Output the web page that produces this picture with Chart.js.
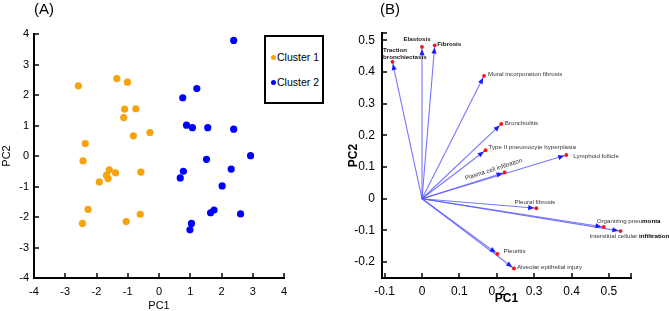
<!DOCTYPE html>
<html><head><meta charset="utf-8">
<script src="https://cdn.jsdelivr.net/npm/chart.js@4.4.1/dist/chart.umd.min.js"></script>
<style>
html,body{margin:0;padding:0;background:#fff;width:669px;height:311px;overflow:hidden;font-family:"Liberation Sans",Arial,sans-serif}
#ca{position:absolute;left:0;top:0}
#cb{position:absolute;left:335px;top:0}
.ptitle{position:absolute;top:0px;font-size:15px;color:#000;line-height:17px}
#legend{position:absolute;left:264px;top:35px;width:56px;height:65px;border:2px solid #000;background:#fff;font-size:10.5px;color:#000}
.li{position:absolute;left:5px;height:12px;line-height:12px;white-space:nowrap}
.dot{display:inline-block;width:5px;height:5px;border-radius:50%;margin-right:1px;vertical-align:1px}
</style></head>
<body>
<canvas id="ca" width="335" height="311"></canvas>
<canvas id="cb" width="334" height="311"></canvas>
<div class="ptitle" style="left:34px">(A)</div>
<div class="ptitle" style="left:380px">(B)</div>
<div id="legend">
  <div class="li" style="top:14px"><span class="dot" style="background:#F7A30F"></span>Cluster 1</div>
  <div class="li" style="top:39px"><span class="dot" style="background:#0000FF"></span>Cluster 2</div>
</div>
<script>
// ---------- DATA ----------
const cluster1X = [-2.58,-1.35,-1.01,-1.10,-0.74,-1.13,-0.82,-0.29,-2.36,-2.43,-1.59,-1.68,-1.63,-1.39,-1.91,-0.58,-2.27,-2.45,-1.05,-0.60];
const cluster1Y = [2.30,2.54,2.42,1.54,1.55,1.26,0.66,0.77,0.41,-0.16,-0.45,-0.63,-0.74,-0.55,-0.85,-0.53,-1.75,-2.21,-2.15,-1.91];
const cluster2X = [2.39,1.21,0.76,0.88,1.07,1.56,2.39,2.93,1.52,2.31,0.78,0.68,2.02,1.76,1.65,2.61,1.04,0.99];
const cluster2Y = [3.79,2.21,1.91,1.01,0.93,0.93,0.88,0.01,-0.11,-0.43,-0.50,-0.72,-0.98,-1.77,-1.86,-1.90,-2.21,-2.42];
const ticksA = [-4,-3,-2,-1,0,1,2,3,4];

const varNames = ['Traction bronchiectasis','Elastosis','Fibrosis','Mural incorporation fibrosis','Bronchiolitis',
  'Type II pneumocyte hyperplasia','Lymphoid follicle','Plasma cell infiltration','Pleural fibrosis',
  'Organizing pneumonia','Interstitial cellular infiltration','Pleuritis','Alveolar epithelial injury'];
const loadPC1 = [-0.079,0.000,0.034,0.166,0.212,0.170,0.386,0.221,0.306,0.486,0.531,0.202,0.246];
const loadPC2 = [0.432,0.479,0.484,0.388,0.236,0.153,0.138,0.083,-0.030,-0.089,-0.102,-0.174,-0.220];
const ticksBX = [-0.1,0,0.1,0.2,0.3,0.4,0.5];
const ticksBXLabels = ['-0.1','0','0.1','0.2','0.3','0.4','0.5'];
const ticksBY = [-0.2,-0.1,0,0.1,0.2,0.3,0.4,0.5];
const ticksBYLabels = ['-0.2','-0.1','0','0.1','0.2','0.3','0.4','0.5'];

// ---------- STYLE ----------
const FONT = '"Liberation Sans", Arial, sans-serif';
const ORANGE = '#F7A30F', BLUE = '#0000FF';
// label placement (pixel offsets from arrow tip), kept apart from data
const labelStyle = {
  'Traction bronchiectasis': {dx:-9.5, dy:-12, align:'left', bold:true, wrap:true, lh:7},
  'Elastosis': {dx:-5, dy:-7.5, align:'center', bold:true},
  'Fibrosis': {dx:2.5, dy:-1, align:'left', bold:true},
  'Mural incorporation fibrosis': {dx:4, dy:-1, align:'left'},
  'Bronchiolitis': {dx:3.5, dy:-0.7, align:'left'},
  'Type II pneumocyte hyperplasia': {dx:3, dy:-3, align:'left'},
  'Lymphoid follicle': {dx:7, dy:1, align:'left'},
  'Plasma cell infiltration': {dx:-11, dy:-3, align:'center', rotate:true},
  'Pleural fibrosis': {dx:-1.5, dy:-6, align:'center'},
  'Organizing pneumonia': {dx:-7, dy:-6, align:'left', boldFrom:15},
  'Interstitial cellular infiltration': {dx:-31, dy:5.5, align:'left', boldFrom:21},
  'Pleuritis': {dx:6, dy:-3, align:'left'},
  'Alveolar epithelial injury': {dx:3, dy:-1, align:'left'}
};

// axis lines + inward tick marks, drawn through the chart's own scales
const axesPlugin = {
  id:'axesInward',
  afterDraw(chart){
    const {ctx, chartArea:ca} = chart;
    const xs = chart.scales.x, ys = chart.scales.y;
    const seg = (a,b,c,d)=>{ctx.beginPath(); ctx.moveTo(a,b); ctx.lineTo(c,d); ctx.stroke();};
    ctx.save();
    ctx.strokeStyle = '#000';
    ctx.lineWidth = 1.5;
    xs.ticks.forEach(t=>{ const p = Math.round(xs.getPixelForValue(t.value)); seg(p, ca.bottom, p, ca.bottom-5); });
    ys.ticks.forEach(t=>{ const p = Math.round(ys.getPixelForValue(t.value)); seg(ca.left, p, ca.left+5, p); });
    ctx.lineWidth = 2;
    ctx.lineCap = 'square';
    seg(Math.round(ca.left), Math.round(ca.top), Math.round(ca.left), Math.round(ca.bottom));
    seg(Math.round(ca.left), Math.round(ca.bottom), Math.round(ca.right), Math.round(ca.bottom));
    ctx.restore();
  }
};

function axisCommon(){
  return {
    grid:{display:false, drawOnChartArea:false, drawTicks:false},
    border:{display:false}
  };
}

// ---------- PANEL A ----------
new Chart(document.getElementById('ca'), {
  type:'scatter',
  data:{datasets:[
    {label:'Cluster 1', data:cluster1X.map((x,i)=>({x, y:cluster1Y[i]})), backgroundColor:ORANGE, pointRadius:3.6, borderWidth:0},
    {label:'Cluster 2', data:cluster2X.map((x,i)=>({x, y:cluster2Y[i]})), backgroundColor:BLUE, pointRadius:3.6, borderWidth:0}
  ]},
  options:{
    responsive:false, animation:false, events:[],
    layout:{padding:{left:0, top:34, right:51, bottom:0}},
    plugins:{legend:{display:false}, tooltip:{enabled:false}},
    scales:{
      x:Object.assign(axisCommon(), {
        type:'linear', min:-4, max:4,
        afterBuildTicks:s=>{s.ticks = ticksA.map(v=>({value:v}));},
        afterFit:s=>{s.height = 33;},
        ticks:{color:'#000', font:{size:11, family:FONT}, padding:7, maxRotation:0, autoSkip:false},
        title:{display:true, text:'PC1', color:'#000', font:{size:11, family:FONT}, padding:{top:0, bottom:-2}}
      }),
      y:Object.assign(axisCommon(), {
        type:'linear', min:-4, max:4,
        afterBuildTicks:s=>{s.ticks = ticksA.map(v=>({value:v}));},
        afterFit:s=>{s.width = 34;},
        ticks:{color:'#000', font:{size:11, family:FONT}, padding:5, autoSkip:false},
        title:{display:true, text:'PC2', color:'#000', font:{size:11, family:FONT}, padding:{top:0, bottom:0}}
      })
    }
  },
  plugins:[axesPlugin]
});

// ---------- PANEL B ----------
const arrowPlugin = {
  id:'arrows',
  afterDatasetsDraw(chart){
    const {ctx} = chart;
    const xs = chart.scales.x, ys = chart.scales.y;
    const ox = xs.getPixelForValue(0), oy = ys.getPixelForValue(0);
    ctx.save();
    varNames.forEach((name,i)=>{
      const ex = xs.getPixelForValue(loadPC1[i]), ey = ys.getPixelForValue(loadPC2[i]);
      const ang = Math.atan2(ey-oy, ex-ox);
      const tx = ex - Math.cos(ang)*2.2, ty = ey - Math.sin(ang)*2.2;
      ctx.save();
      ctx.translate(tx, ty); ctx.rotate(ang);
      ctx.beginPath(); ctx.moveTo(0,0); ctx.lineTo(-6,-2.6); ctx.lineTo(-6,2.6); ctx.closePath();
      ctx.fillStyle = '#1a1aff'; ctx.fill();
      ctx.restore();
      ctx.beginPath(); ctx.arc(ex, ey, 1.9, 0, Math.PI*2); ctx.fillStyle = '#ff1010'; ctx.fill();
    });
    varNames.forEach((name,i)=>{
      const st = labelStyle[name] || {dx:3, dy:0, align:'left'};
      const ex = xs.getPixelForValue(loadPC1[i]), ey = ys.getPixelForValue(loadPC2[i]);
      ctx.save();
      ctx.textBaseline = 'middle';
      ctx.fillStyle = st.bold ? '#111' : '#333';
      const normalFont = '6.2px ' + FONT, boldFont = 'bold 6.2px ' + FONT;
      ctx.font = st.bold ? boldFont : normalFont;
      if (st.rotate){
        const ang = Math.atan2(ey-oy, ex-ox);
        ctx.translate(ex+st.dx, ey+st.dy); ctx.rotate(ang);
        ctx.textAlign = 'center';
        ctx.fillText(name, 0, 0);
      } else if (st.wrap){
        ctx.textAlign = st.align;
        name.split(' ').forEach((w,k)=>ctx.fillText(w, ex+st.dx, ey+st.dy+k*st.lh));
      } else if (st.boldFrom){
        ctx.textAlign = 'left';
        const a = name.slice(0, st.boldFrom), b = name.slice(st.boldFrom);
        ctx.font = normalFont; ctx.fillText(a, ex+st.dx, ey+st.dy);
        const w = ctx.measureText(a).width;
        ctx.font = boldFont; ctx.fillStyle = '#000'; ctx.fillText(b, ex+st.dx+w, ey+st.dy);
      } else {
        ctx.textAlign = st.align;
        ctx.fillText(name, ex+st.dx, ey+st.dy);
      }
      ctx.restore();
    });
    ctx.restore();
  }
};

const lineSets = varNames.map((n,i)=>({
  label:n, type:'line', data:[{x:0,y:0},{x:loadPC1[i], y:loadPC2[i]}],
  borderColor:'rgba(85,85,255,0.8)', borderWidth:1.1, pointRadius:0, fill:false, tension:0
}));

new Chart(document.getElementById('cb'), {
  type:'scatter',
  data:{datasets:lineSets},
  options:{
    responsive:false, animation:false, events:[],
    layout:{padding:{left:0, top:33, right:38, bottom:0}},
    plugins:{legend:{display:false}, tooltip:{enabled:false}},
    scales:{
      x:Object.assign(axisCommon(), {
        type:'linear', min:-0.107, max:0.559,
        afterBuildTicks:s=>{s.ticks = ticksBX.map(v=>({value:v})).concat([{value:s.max}]);},
        afterFit:s=>{s.height = 33;},
        ticks:{color:'#000', font:{size:12, family:FONT}, padding:6, maxRotation:0, autoSkip:false,
          callback:(v,idx)=> idx < ticksBXLabels.length ? ticksBXLabels[idx] : ''},
        title:{display:true, text:'PC1', color:'#000', font:{size:12, family:FONT, weight:'bold'}, padding:{top:0, bottom:5}}
      }),
      y:Object.assign(axisCommon(), {
        type:'linear', min:-0.25, max:0.523,
        afterBuildTicks:s=>{s.ticks = ticksBY.map(v=>({value:v})).concat([{value:s.max}]);},
        afterFit:s=>{s.width = 47;},
        ticks:{color:'#000', font:{size:12, family:FONT}, padding:7, autoSkip:false,
          callback:(v,idx)=> idx < ticksBYLabels.length ? ticksBYLabels[idx] : ''},
        title:{display:true, text:'PC2', color:'#000', font:{size:12, family:FONT, weight:'bold'}, padding:{top:11, bottom:0}}
      })
    }
  },
  plugins:[arrowPlugin, axesPlugin]
});
</script>
</body></html>
